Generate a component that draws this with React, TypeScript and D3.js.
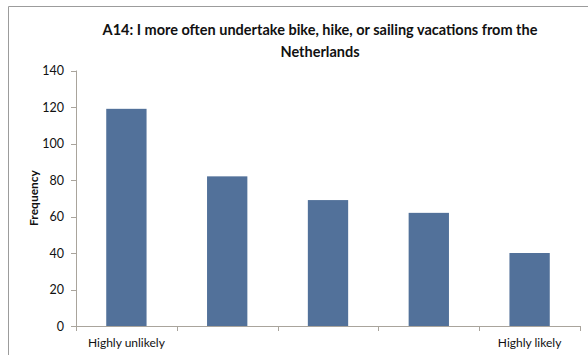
import React from "react";
import * as d3 from "d3";

const categories = ["Highly unlikely", "2", "3", "4", "Highly likely"];
const categoryLabels = ["Highly unlikely", "", "", "", "Highly likely"];
const frequencies = [119, 82, 69, 62, 40];
const yTicks = [0, 20, 40, 60, 80, 100, 120, 140];
const titleLines = [
  "A14: I more often undertake bike, hike, or sailing vacations from the",
  "Netherlands",
];
const yAxisTitle = "Frequency";

const W = 588;
const H = 355;
const FONT = "Lato, 'Open Sans', sans-serif";

export default function App() {
  const x = d3.scaleBand<string>().domain(categories).range([76, 580]).paddingInner(0.6).paddingOuter(0.3);
  const xOuter = d3.scaleBand<string>().domain(categories).range([76, 580]);
  const y = d3.scaleLinear().domain([0, 140]).range([326, 70.5]);
  const axisColor = "#a9a49c";
  const boundaries = [...categories.map((c) => xOuter(c) as number), 580];

  return (
    <svg width={W} height={H} style={{ position: "absolute", left: 0, top: 0, background: "#fff" }}>
      <rect x={0} y={0} width={W} height={H} fill="#fff" />
      <path d={`M8.5,${H} V6.5 H${W}`} fill="none" stroke="#9c9c9c" strokeWidth={1} />
      {titleLines.map((t, i) => (
        <text key={i} x={320} y={35 + i * 22} textAnchor="middle" fontFamily={FONT} fontWeight="bold" fontSize={14.5} fill="#111">
          {t}
        </text>
      ))}
      {categories.map((c, i) => (
        <rect key={c} x={x(c)} y={y(frequencies[i])} width={x.bandwidth()} height={y(0) - y(frequencies[i])} fill="#52719a" />
      ))}
      <line x1={76.5} x2={76.5} y1={y(140)} y2={y(0)} stroke={axisColor} />
      {yTicks.map((t) => (
        <g key={t}>
          <line x1={71} x2={76.5} y1={Math.round(y(t)) + 0.5} y2={Math.round(y(t)) + 0.5} stroke={axisColor} />
          <text x={64} y={y(t) + 4.5} textAnchor="end" fontFamily={FONT} fontSize={12.5} fill="#111">
            {t}
          </text>
        </g>
      ))}
      <line x1={76} x2={580} y1={Math.round(y(0)) + 0.5} y2={Math.round(y(0)) + 0.5} stroke={axisColor} />
      {boundaries.map((b, i) => (
        <line key={i} x1={Math.round(b) + 0.5} x2={Math.round(b) + 0.5} y1={y(0)} y2={y(0) + 5} stroke={axisColor} />
      ))}
      {categories.map((c, i) => (
        <text key={c} x={(xOuter(c) as number) + xOuter.bandwidth() / 2} y={347} textAnchor="middle" fontFamily={FONT} fontSize={12} fill="#111">
          {categoryLabels[i]}
        </text>
      ))}
      <text transform={`translate(38,198) rotate(-90)`} textAnchor="middle" fontFamily={FONT} fontWeight="bold" fontSize={12} fill="#111">
        {yAxisTitle}
      </text>
    </svg>
  );
}
